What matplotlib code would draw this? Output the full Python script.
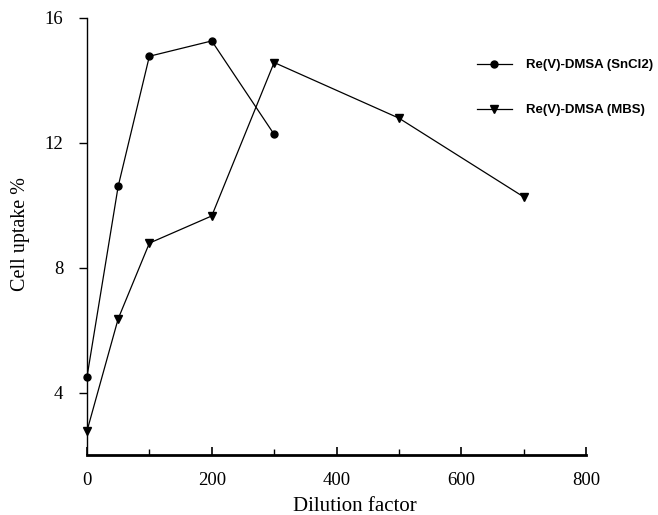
import matplotlib
matplotlib.use("Agg")
import matplotlib.pyplot as plt
from matplotlib.ticker import MultipleLocator

x_sncl2 = [0, 50, 100, 200, 300]
y_sncl2 = [4.5, 10.6, 14.76, 15.25, 12.26]
x_mbs = [0, 50, 100, 200, 300, 500, 700]
y_mbs = [2.77, 6.36, 8.78, 9.65, 14.56, 12.78, 10.26]
labels = ["Re(V)-DMSA (SnCl2)", "Re(V)-DMSA (MBS)"]

fig = plt.figure(figsize=(6.58, 5.15), dpi=100)
ax = fig.add_axes([87/658, 1-455/515, (586-87)/658, (455-17.5)/515])

ax.plot(x_sncl2, y_sncl2, color="black", lw=0.9, marker="o", ms=5, label=labels[0], clip_on=False)
ax.plot(x_mbs, y_mbs, color="black", lw=0.9, marker="v", ms=6, label=labels[1], clip_on=False)

ax.set_xlim(0, 800)
ax.set_ylim(2, 16)
ax.xaxis.set_major_locator(MultipleLocator(200))
ax.xaxis.set_minor_locator(MultipleLocator(100))
ax.set_yticks([4, 8, 12, 16])

for s in ["top", "right"]:
    ax.spines[s].set_visible(False)
ax.spines["left"].set_linewidth(1.0)
ax.spines["bottom"].set_linewidth(2.0)

ax.tick_params(axis="x", which="major", direction="in", length=6, width=1.2, pad=12)
ax.tick_params(axis="x", which="minor", direction="in", length=4, width=1.0)
ax.tick_params(axis="y", which="major", direction="out", length=6, width=1.0, pad=11)

for lab in ax.get_xticklabels() + ax.get_yticklabels():
    lab.set_fontfamily("Liberation Serif")
    lab.set_fontsize(13.5)

ax.set_xlabel("Dilution factor", fontfamily="Liberation Serif", fontsize=15)
ax.set_ylabel("Cell uptake %", fontfamily="Liberation Serif", fontsize=14.5)
ax.xaxis.set_label_coords((354.5-87)/499, (455-497)/437.5)
ax.yaxis.set_label_coords((30-87)/499, 0.506)

leg = ax.legend(loc="upper left", bbox_to_anchor=(477/658, 1-59/515), bbox_transform=fig.transFigure,
                frameon=False, prop={"family": "Liberation Sans", "weight": "bold", "size": 9.5},
                handlelength=2.65, handletextpad=1.05, labelspacing=2.5, borderaxespad=0, borderpad=0)

fig.savefig("out.png", dpi=100)
